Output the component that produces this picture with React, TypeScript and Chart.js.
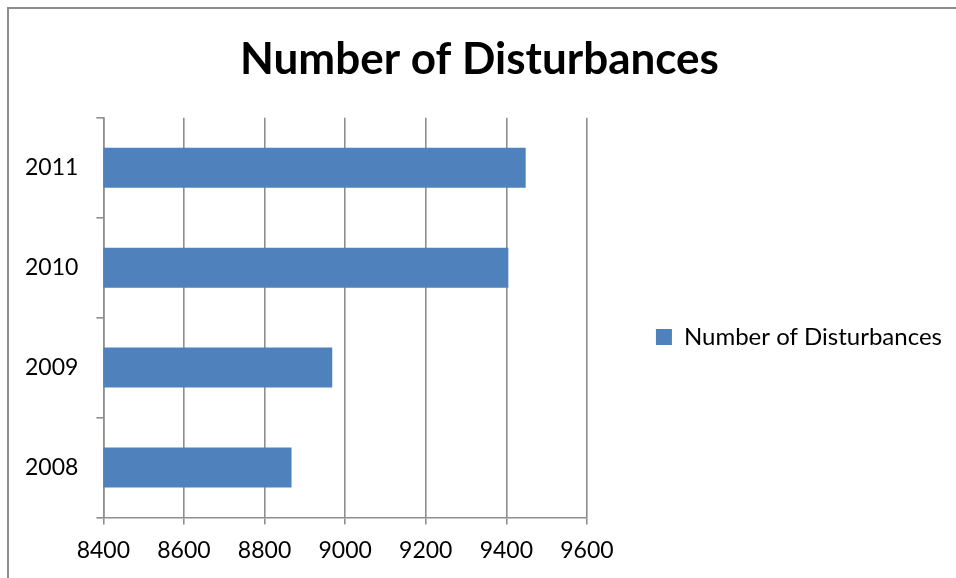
import React, { useEffect, useRef } from "react";
import { Chart, registerables } from "chart.js";

Chart.register(...registerables);

const categories = ["2011", "2010", "2009", "2008"];
const values = [9448, 9405, 8968, 8867];
const seriesName = "Number of Disturbances";
const xMin = 8400;
const xMax = 9600;
const xStep = 200;

const FONT = "Lato, 'Open Sans', sans-serif";
const GRID = "#8e8e8e";

export default function App() {
  const ref = useRef<HTMLCanvasElement | null>(null);
  useEffect(() => {
    const chart = new Chart(ref.current!, {
      type: "bar",
      data: {
        labels: categories,
        datasets: [
          {
            label: seriesName,
            data: values,
            backgroundColor: "#4F81BD",
            borderWidth: 0,
            categoryPercentage: 1,
            barPercentage: 0.4,
          },
        ],
      },
      options: {
        indexAxis: "y",
        responsive: false,
        animation: false,
        layout: { padding: { left: 7, right: 4, top: 0, bottom: 2 } },
        plugins: {
          tooltip: { enabled: false },
          title: {
            display: true,
            text: "Number of Disturbances",
            color: "#000",
            font: { family: FONT, size: 44, weight: "bold" },
            padding: { top: 33, bottom: 32 },
          },
          legend: {
            position: "right",
            maxWidth: 420,
            title: {
              display: true,
              text: "",
              padding: { top: 83.6, bottom: 0 },
            },
            labels: {
              color: "#000",
              font: { family: FONT, size: 24 },
              boxWidth: 16,
              boxHeight: 16,
              padding: 69,
            },
          },
        },
        scales: {
          x: {
            min: xMin,
            max: xMax,
            ticks: {
              stepSize: xStep,
              color: "#000",
              font: { family: FONT, size: 23 },
              padding: 12,
              callback: (v: any) => String(v),
            },
            grid: { color: GRID, tickLength: 7, lineWidth: 1.6 },
            border: { color: GRID, width: 1.6 },
          },
          y: {
            offset: true,
            ticks: {
              color: "#000",
              font: { family: FONT, size: 23 },
              padding: 18,
            },
            grid: {
              offset: true,
              drawOnChartArea: false,
              color: GRID,
              tickLength: 7,
              lineWidth: 1.6,
            },
            border: { color: GRID, width: 1.6 },
          },
        },
      },
    });
    return () => chart.destroy();
  }, []);

  return (
    <div style={{ position: "fixed", left: 0, top: 0, width: 956, height: 578, background: "#fff" }}>
      <div
        style={{
          position: "absolute",
          left: 7,
          top: 7,
          right: 0,
          bottom: 0,
          borderLeft: "2px solid #8c8c8c",
          borderTop: "2px solid #8c8c8c",
        }}
      />
      <canvas ref={ref} width={956} height={578} style={{ position: "absolute", left: 0, top: 0 }} />
    </div>
  );
}
